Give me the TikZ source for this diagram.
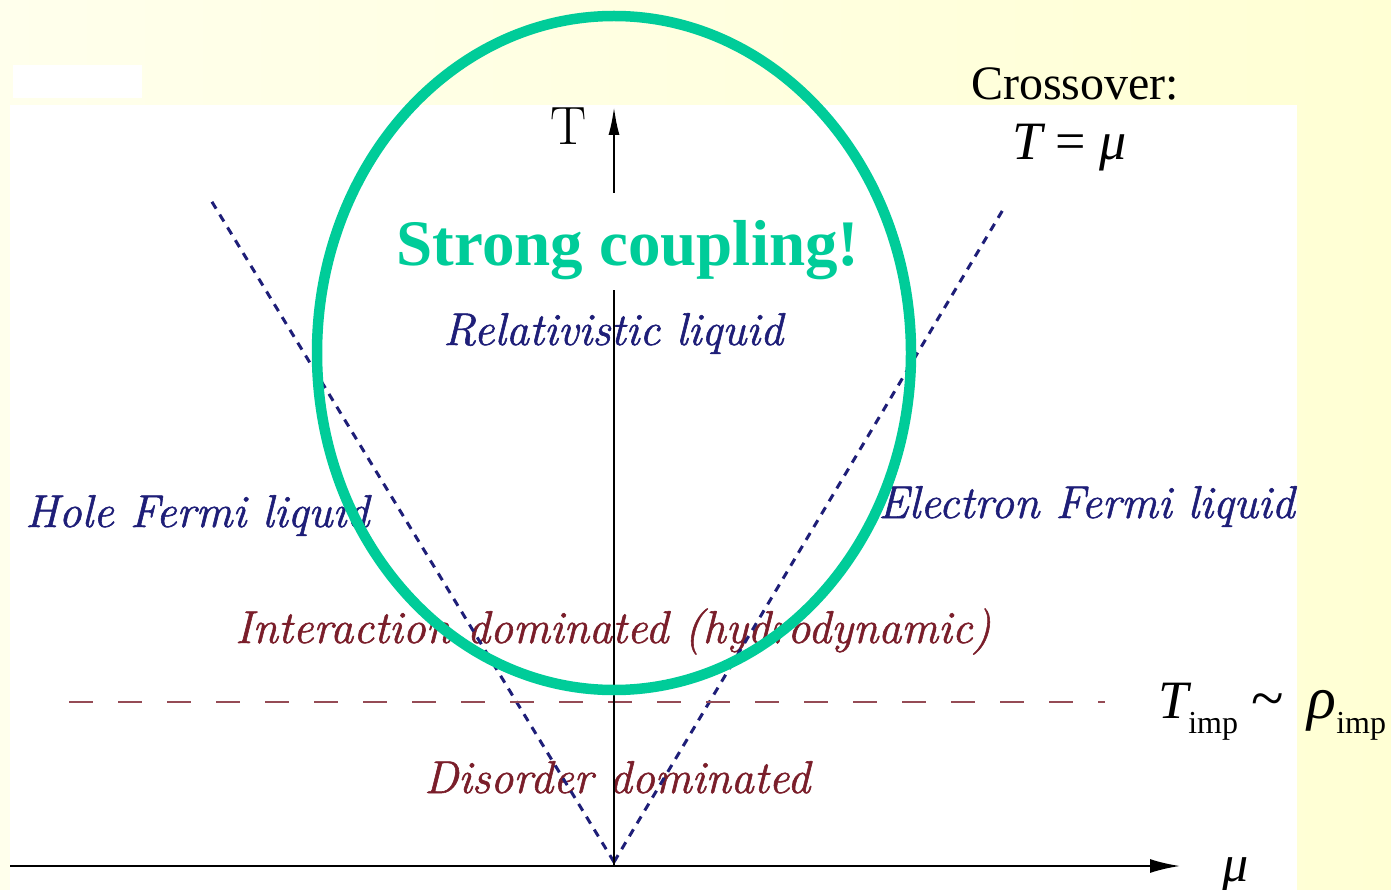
\documentclass[tikz,border=0pt]{standalone}
\usepackage{fontspec}
\newfontfamily\timesfont{Liberation Serif}
\newfontfamily\phasefont[FakeBold=1.2, ItalicFeatures={FakeBold=1.2}]{Latin Modern Roman}
\usetikzlibrary{arrows.meta}
\definecolor{SlideYellow}{HTML}{FFFFD4}
\definecolor{SlidePale}{HTML}{FFFFEC}
\definecolor{RingGreen}{HTML}{00CC99}
\definecolor{PhaseBlue}{HTML}{1E1E78}
\definecolor{PhaseRed}{HTML}{7A1E2A}

\begin{document}
\begin{tikzpicture}[x=1pt, y=-1pt,
  axis_line/.style={line width=2.2pt, black},
  cross_line/.style={line width=3pt, PhaseBlue, dash pattern=on 8pt off 7pt},
  imp_line/.style={line width=2.2pt, PhaseRed!80, dash pattern=on 24pt off 25pt},
  ring_line/.style={line width=10.5pt, RingGreen},
  region_blue/.style={text=PhaseBlue, font=\phasefont\fontsize{46}{52}\selectfont\itshape, inner sep=0pt, anchor=base west},
  region_red/.style={text=PhaseRed, font=\phasefont\fontsize{46}{52}\selectfont\itshape, inner sep=0pt, anchor=base west},
  slide_text/.style={font=\timesfont\fontsize{48}{54}\selectfont, inner sep=0pt, anchor=base west},
]
  % slide background and pasted figure
  \useasboundingbox (0,0) rectangle (1391,890);
  \fill[left color=SlidePale, right color=SlideYellow] (0,0) rectangle (1391,890);
  \fill[white] (10,105) rectangle (1297,890);
  \fill[white] (13,65) rectangle (142,98);

  \coordinate (orig) at (614,866);
  \coordinate (apex) at (614,862);
  \coordinate (mu_end) at (1180,866);
  \coordinate (mu_start) at (10,866);
  \coordinate (gap_lo) at (614,290);
  \coordinate (gap_hi) at (614,193);
  \coordinate (T_end) at (614,107);
  \coordinate (hole_top) at (209,197);
  \coordinate (elec_top) at (1004,208);
  \coordinate (imp_l) at (69,702);
  \coordinate (imp_r) at (1105,702);

  % phase regions
  \node[region_blue] (rel) at (443,345) {Relativistic liquid};
  \node[region_blue] (hole) at (25,527) {Hole Fermi liquid};
  \node[region_blue] (elec) at (878,518) {Electron Fermi liquid};
  \node[region_red] (inter) at (235,643) {Interaction dominated (hydrodynamic)};
  \node[region_red] (dis) at (424,793) {Disorder dominated};

  % crossover lines T = |mu| and T_imp
  \draw[cross_line] (apex) -- (hole_top);
  \draw[cross_line] (apex) -- (elec_top);
  \draw[imp_line] (imp_l) -- (imp_r);

  % axes
  \draw[axis_line, -{Latex[length=30pt, width=14pt]}] (mu_start) -- (mu_end);
  \draw[axis_line] (orig) -- (gap_lo);
  \draw[axis_line, -{Latex[length=28pt, width=11pt]}] (gap_hi) -- (T_end);
  \node[font=\fontsize{54}{60}\selectfont, inner sep=0pt, anchor=base west] (T_lab) at (550,145) {T};
  \node[slide_text, font=\timesfont\itshape\fontsize{52}{56}\selectfont] (mu_lab) at (1222,881) {μ};

  % annotations
  \node[slide_text] (cross) at (971,100) {Crossover:};
  \node[slide_text, font=\timesfont\fontsize{54}{58}\selectfont] (tmu) at (1012,160) {{\itshape T} = {\itshape μ}};
  \node[slide_text, font=\timesfont\fontsize{54}{58}\selectfont] (timp) at (1158,718)
    {{\itshape T}\raisebox{-15pt}{\fontsize{32}{34}\selectfont imp}\hspace{13pt}{\fontsize{60}{60}\selectfont\textasciitilde}\hspace{24pt}{\itshape\fontsize{60}{60}\selectfont ρ}\raisebox{-15pt}{\fontsize{32}{34}\selectfont imp}};

  \draw[ring_line] (614,353) ellipse [x radius=297, y radius=337];
  \node[text=RingGreen, font=\timesfont\bfseries\fontsize{65}{70}\selectfont, inner sep=0pt, anchor=base] (strong) at (628,266) {Strong coupling!};
\end{tikzpicture}
\end{document}
